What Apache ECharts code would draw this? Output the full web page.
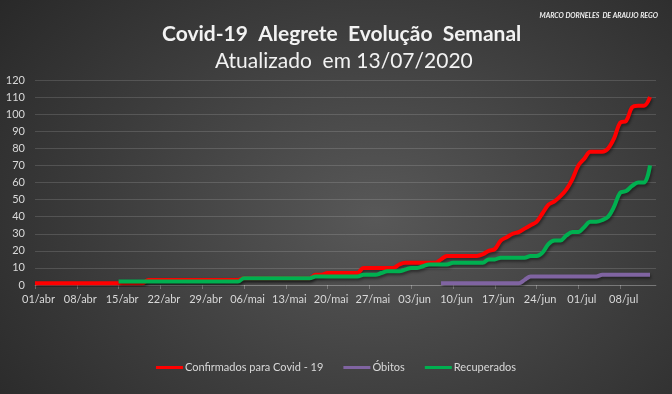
<!DOCTYPE html>
<html>
<head>
<meta charset="utf-8">
<script src="https://cdn.jsdelivr.net/npm/echarts@6/dist/echarts.min.js"></script>
<style>
html,body{margin:0;padding:0;}
#c{width:672px;height:394px;background:radial-gradient(ellipse 75% 95% at 56% 55%, #585858 0%, #3c3c3c 55%, #262626 100%);}
</style>
</head>
<body>
<div id="c"></div>
<script>
// Category axis: days from 01/abr to 14/jul
const months = [['abr', 30], ['mai', 31], ['jun', 30], ['jul', 14]];
const categories = [];
months.forEach(([m, n]) => { for (let d = 1; d <= n; d++) categories.push((d < 10 ? '0' : '') + d + '/' + m); });

const seriesNames = ['Confirmados para Covid - 19', 'Óbitos', 'Recuperados'];

const confirmados = [
  1,1,1,1,1,1,1,1,1,1,
  1,1,1,1,1,1,1,1,1,3,
  3,3,3,3,3,3,3,3,3,3,
  3,3,3,3,3,4,4,4,4,4,
  4,4,4,4,4,4,4,6,6,7,
  7,7,7,7,7,10,10,10,10,10,
  10,12,13,13,13,13,13,13,15,17,
  17,17,17,17,17,18,20,21,26,28,
  30,31,33,35,37,42,47,49,52,56,
  62,70,74,78,78,78,80,86,95,96,
  104,105,105,110
];

const recuperados = [
  null,null,null,null,null,null,null,null,null,null,
  null,null,null,null,2,2,2,2,2,2,
  2,2,2,2,2,2,2,2,2,2,
  2,2,2,2,2,4,4,4,4,4,
  4,4,4,4,4,4,4,5,5,5,
  5,5,5,5,5,6,6,6,7,8,
  8,8,9,10,10,11,12,12,12,12,
  13,13,13,13,13,13,15,15,16,16,
  16,16,16,17,17,19,24,26,26,29,
  31,31,34,37,37,38,40,46,54,55,
  58,60,60,70
];

const obitos = [
  null,null,null,null,null,null,null,null,null,null,
  null,null,null,null,null,null,null,null,null,null,
  null,null,null,null,null,null,null,null,null,null,
  null,null,null,null,null,null,null,null,null,null,
  null,null,null,null,null,null,null,null,null,null,
  null,null,null,null,null,null,null,null,null,null,
  null,null,null,null,null,null,null,null,1,1,
  1,1,1,1,1,1,1,1,1,1,
  1,1,3,5,5,5,5,5,5,5,
  5,5,5,5,5,6,6,6,6,6,
  6,6,6,6
];

const chart = echarts.init(document.getElementById('c'), null, {renderer: 'canvas'});
const lblColor = '#d9d9d9';
const font = 'Lato, "Open Sans", sans-serif';
const lineSeries = (name, data, color) => ({
  name, type: 'line', data, smooth: 0.35, showSymbol: false, symbol: 'none',
  connectNulls: false,
  lineStyle: {color, width: 4, shadowColor: 'rgba(0,0,0,0.45)', shadowBlur: 3, shadowOffsetY: 2, shadowOffsetX: 1},
  itemStyle: {color}
});

chart.setOption({
  backgroundColor: 'transparent',
  animation: false,
  title: [
    {text: 'Covid-19  Alegrete  Evolução  Semanal', left: 157, top: 19,
     textStyle: {color: '#f2f2f2', fontFamily: font, fontSize: 21, fontWeight: 'bold'}},
    {text: 'Atualizado  em 13/07/2020', left: 210, top: 46,
     textStyle: {color: '#f2f2f2', fontFamily: font, fontSize: 21, fontWeight: 'normal'}},
    {text: 'MARCO DORNELES  DE ARAUJO REGO', right: 9, top: 7,
     textStyle: {color: '#f2f2f2', fontFamily: font, fontSize: 7, fontWeight: 'bold', fontStyle: 'italic'}}
  ],
  legend: {
    data: seriesNames, bottom: 16, left: 'center', itemGap: 20,
    icon: 'rect', itemWidth: 27, itemHeight: 3,
    textStyle: {color: lblColor, fontFamily: font, fontSize: 11, padding: [0, 0, 0, -3]}
  },
  grid: {left: 35, right: 16, top: 80, bottom: 109, containLabel: false},
  xAxis: {
    type: 'category', data: categories, boundaryGap: false,
    axisLine: {lineStyle: {color: 'rgba(255,255,255,0.2)'}},
    axisTick: {show: true, interval: 6, length: 4, lineStyle: {color: 'rgba(255,255,255,0.25)'}},
    axisLabel: {interval: 6, color: lblColor, fontFamily: font, fontSize: 11, margin: 9, padding: [0, 0, 0, 7]},
    splitLine: {show: false}
  },
  yAxis: {
    type: 'value', min: 0, max: 120, interval: 10,
    axisLine: {show: false}, axisTick: {show: false},
    axisLabel: {color: lblColor, fontFamily: font, fontSize: 11, margin: 10},
    splitLine: {lineStyle: {color: 'rgba(255,255,255,0.14)', width: 1}}
  },
  series: [
    lineSeries(seriesNames[0], confirmados, '#ff0000'),
    lineSeries(seriesNames[1], obitos, '#8064a2'),
    lineSeries(seriesNames[2], recuperados, '#00b050')
  ]
});
</script>
</body>
</html>
